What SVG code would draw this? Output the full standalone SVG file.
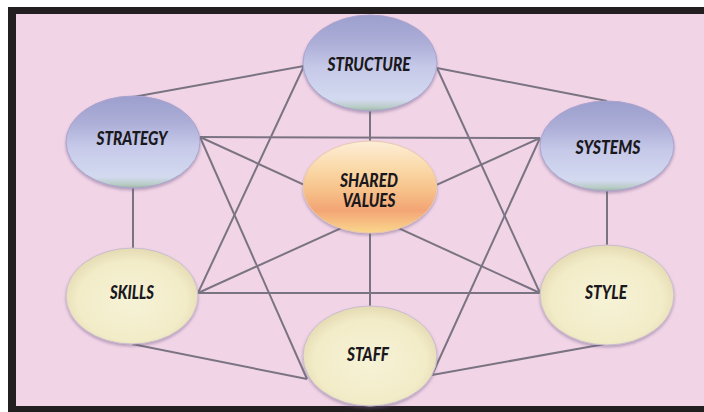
<svg xmlns="http://www.w3.org/2000/svg" width="704" height="412" viewBox="0 0 704 412">
<defs>
<linearGradient id="gBlue" x1="0" y1="0" x2="0" y2="1">
<stop offset="0" stop-color="#9c9ecd"/>
<stop offset="0.3" stop-color="#adafd8"/>
<stop offset="0.55" stop-color="#c6c9e8"/>
<stop offset="0.88" stop-color="#d3daf0"/>
<stop offset="0.96" stop-color="#b9ccc6"/>
<stop offset="1" stop-color="#9cb6a4"/>
</linearGradient>
<radialGradient id="gCream" cx="0.5" cy="0.55" r="0.55">
<stop offset="0" stop-color="#f6f2d6"/>
<stop offset="0.75" stop-color="#f2ecc8"/>
<stop offset="1" stop-color="#e4dab2"/>
</radialGradient>
<linearGradient id="gOrange" x1="0" y1="0" x2="0" y2="1">
<stop offset="0" stop-color="#fdeed8"/>
<stop offset="0.3" stop-color="#fad9a8"/>
<stop offset="0.55" stop-color="#f7c088"/>
<stop offset="0.75" stop-color="#f3a475"/>
<stop offset="1" stop-color="#fad78c"/>
</linearGradient>
<filter id="sh" x="-20%" y="-20%" width="140%" height="150%">
<feGaussianBlur in="SourceAlpha" stdDeviation="1.5"/>
<feOffset dy="2" result="b"/>
<feFlood flood-color="#6a5a80" flood-opacity="0.45"/>
<feComposite in2="b" operator="in"/>
<feMerge><feMergeNode/><feMergeNode in="SourceGraphic"/></feMerge>
</filter>
</defs>
<style>
.conn line{stroke:#7a7482;stroke-width:2;fill:none}
.blue{fill:url(#gBlue);stroke:#aaa3cf;stroke-width:1}
.cream{fill:url(#gCream);stroke:#c9bcd0;stroke-width:1}
.orange{fill:url(#gOrange);stroke:#e8c8b0;stroke-width:1}
.node ellipse{filter:url(#sh)}
text{font-family:Lato,"Open Sans","Liberation Sans",sans-serif;font-weight:900;font-style:italic;font-size:18px;fill:#1a181c;text-anchor:middle}
</style>
<rect x="0" y="0" width="704" height="412" fill="#ffffff"/>
<rect x="8" y="7" width="696" height="405" fill="#231f20"/>
<rect x="16" y="14" width="688" height="392" fill="#f2d4e7"/>
<g id="connectors" class="conn">
<line x1="304" y1="66" x2="133" y2="97"/>
<line x1="437" y1="68" x2="607" y2="101"/>
<line x1="370" y1="111" x2="370" y2="306"/>
<line x1="304" y1="66" x2="198" y2="293"/>
<line x1="437" y1="68" x2="540" y2="293"/>
<line x1="133" y1="188" x2="133" y2="248"/>
<line x1="607" y1="191" x2="607" y2="245"/>
<line x1="200" y1="137" x2="540" y2="138"/>
<line x1="200" y1="137" x2="307" y2="379"/>
<line x1="200" y1="137" x2="540" y2="293"/>
<line x1="540" y1="138" x2="198" y2="293"/>
<line x1="540" y1="138" x2="432" y2="375"/>
<line x1="198" y1="293" x2="540" y2="293"/>
<line x1="132" y1="344" x2="307" y2="379"/>
<line x1="605" y1="344" x2="432" y2="375"/>
</g>
<g id="structure" class="node">
<ellipse class="blue" cx="370" cy="63" rx="67" ry="48"/>
<text x="369" y="71" textLength="83" lengthAdjust="spacingAndGlyphs">STRUCTURE</text>
</g>
<g id="strategy" class="node">
<ellipse class="blue" cx="133" cy="142" rx="67" ry="46"/>
<text x="132" y="145" textLength="71" lengthAdjust="spacingAndGlyphs">STRATEGY</text>
</g>
<g id="systems" class="node">
<ellipse class="blue" cx="607" cy="146" rx="67" ry="45"/>
<text x="608" y="154" textLength="65" lengthAdjust="spacingAndGlyphs">SYSTEMS</text>
</g>
<g id="shared-values" class="node">
<ellipse class="orange" cx="370" cy="187" rx="67" ry="46"/>
<text x="369" y="187" textLength="58" lengthAdjust="spacingAndGlyphs">SHARED</text>
<text x="369" y="207" textLength="53" lengthAdjust="spacingAndGlyphs">VALUES</text>
</g>
<g id="skills" class="node">
<ellipse class="cream" cx="132" cy="296" rx="66" ry="48"/>
<text x="132" y="299" textLength="44" lengthAdjust="spacingAndGlyphs">SKILLS</text>
</g>
<g id="style" class="node">
<ellipse class="cream" cx="607" cy="295" rx="67" ry="50"/>
<text x="606" y="299" textLength="42" lengthAdjust="spacingAndGlyphs">STYLE</text>
</g>
<g id="staff" class="node">
<ellipse class="cream" cx="370" cy="356" rx="67" ry="50"/>
<text x="368" y="361" textLength="42" lengthAdjust="spacingAndGlyphs">STAFF</text>
</g>
</svg>
